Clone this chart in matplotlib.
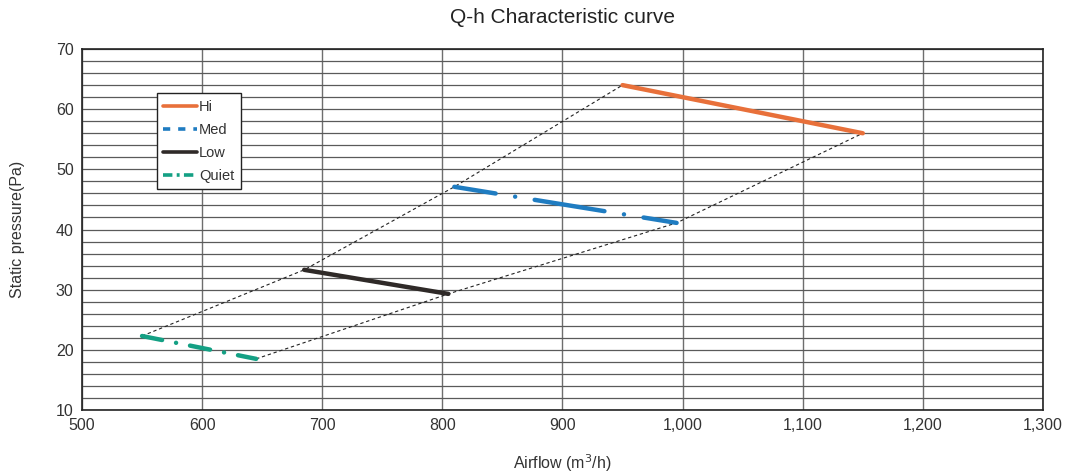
import matplotlib.pyplot as plt
from matplotlib.ticker import FuncFormatter, MultipleLocator

plt.rcParams['font.family'] = ['Liberation Sans', 'DejaVu Sans']

# --- Daten ---
hi_x = [950, 1150]
hi_y = [64.0, 56.0]
med_x = [810, 995]
med_y = [47.1, 41.1]
low_x = [685, 805]
low_y = [33.3, 29.3]
quiet_x = [550, 645]
quiet_y = [22.3, 18.5]

# Huellkurven (gestrichelt)
upper_x = [550, 685, 810, 950]
upper_y = [22.3, 33.3, 47.1, 64.0]
lower_x = [645, 805, 995, 1150]
lower_y = [18.5, 29.3, 41.1, 56.0]

fig = plt.figure(figsize=(10.73, 4.74), dpi=100)
ax = fig.add_axes([0.0764, 0.135, 0.8956, 0.7616])

# Gitter
ax.yaxis.set_minor_locator(MultipleLocator(2))
ax.grid(which='major', axis='x', color='#6e6e6e', linewidth=1.0)
ax.grid(which='both', axis='y', color='#5a5a5a', linewidth=0.9)
ax.set_axisbelow(True)

# Huellkurven
ax.plot(upper_x, upper_y, color='#222222', linewidth=0.8, dashes=(3, 2.5))
ax.plot(lower_x, lower_y, color='#222222', linewidth=0.8, dashes=(3, 2.5))

# Kennlinien
lw = 3.2
ax.plot(hi_x, hi_y, color='#e8703a', linewidth=lw, solid_capstyle='round', label='Hi')
ax.plot(med_x, med_y, color='#1f7cc1', linewidth=lw,
        linestyle=(6.5, (15.9, 4.45, 0.01, 4.45)), dash_capstyle='round', label='Med')
ax.plot(low_x, low_y, color='#2f2a28', linewidth=lw, solid_capstyle='round', label='Low')
ax.plot(quiet_x, quiet_y, color='#14a084', linewidth=lw,
        linestyle=(0, (4.6, 3.2, 0.01, 3.2)), dash_capstyle='round', label='Quiet')

ax.set_xlim(500, 1300)
ax.set_ylim(10, 70)
ax.xaxis.set_major_locator(MultipleLocator(100))
ax.yaxis.set_major_locator(MultipleLocator(10))
ax.xaxis.set_major_formatter(FuncFormatter(lambda v, p: f'{int(v):,}'))
ax.tick_params(axis='both', which='both', length=0, labelsize=11.5, colors='#333333', pad=6)

for s in ax.spines.values():
    s.set_color('#222222')
    s.set_linewidth(1.2)

ax.set_xlabel('Airflow (m$^3$/h)', fontsize=11.5, color='#333333', labelpad=14)
ax.set_ylabel('Static pressure(Pa)', fontsize=11.5, color='#333333', labelpad=22)
ax.set_title('Q-h Characteristic curve', fontsize=15, color='#222222', pad=19)

leg = ax.legend(loc='upper left', bbox_to_anchor=(0.078, 0.878), fontsize=10.5,
                frameon=True, fancybox=False, framealpha=1, edgecolor='#222222',
                handlelength=2.3, handletextpad=0.15, labelspacing=0.62,
                borderpad=0.45, borderaxespad=0)
leg.get_frame().set_linewidth(1.0)
for t in leg.get_texts():
    t.set_color('#333333')
handles = leg.get_lines()
for h in handles:
    h.set_linewidth(2.6)
# Legende: Med als "— —", Quiet als Strich-Punkt
handles[1].set_linestyle((0, (2.0, 2.2)))
handles[1].set_dash_capstyle('butt')
handles[3].set_linestyle((0, (2.6, 1.2, 0.8, 1.2)))
handles[3].set_dash_capstyle('butt')

fig.savefig('out.png', dpi=100)
